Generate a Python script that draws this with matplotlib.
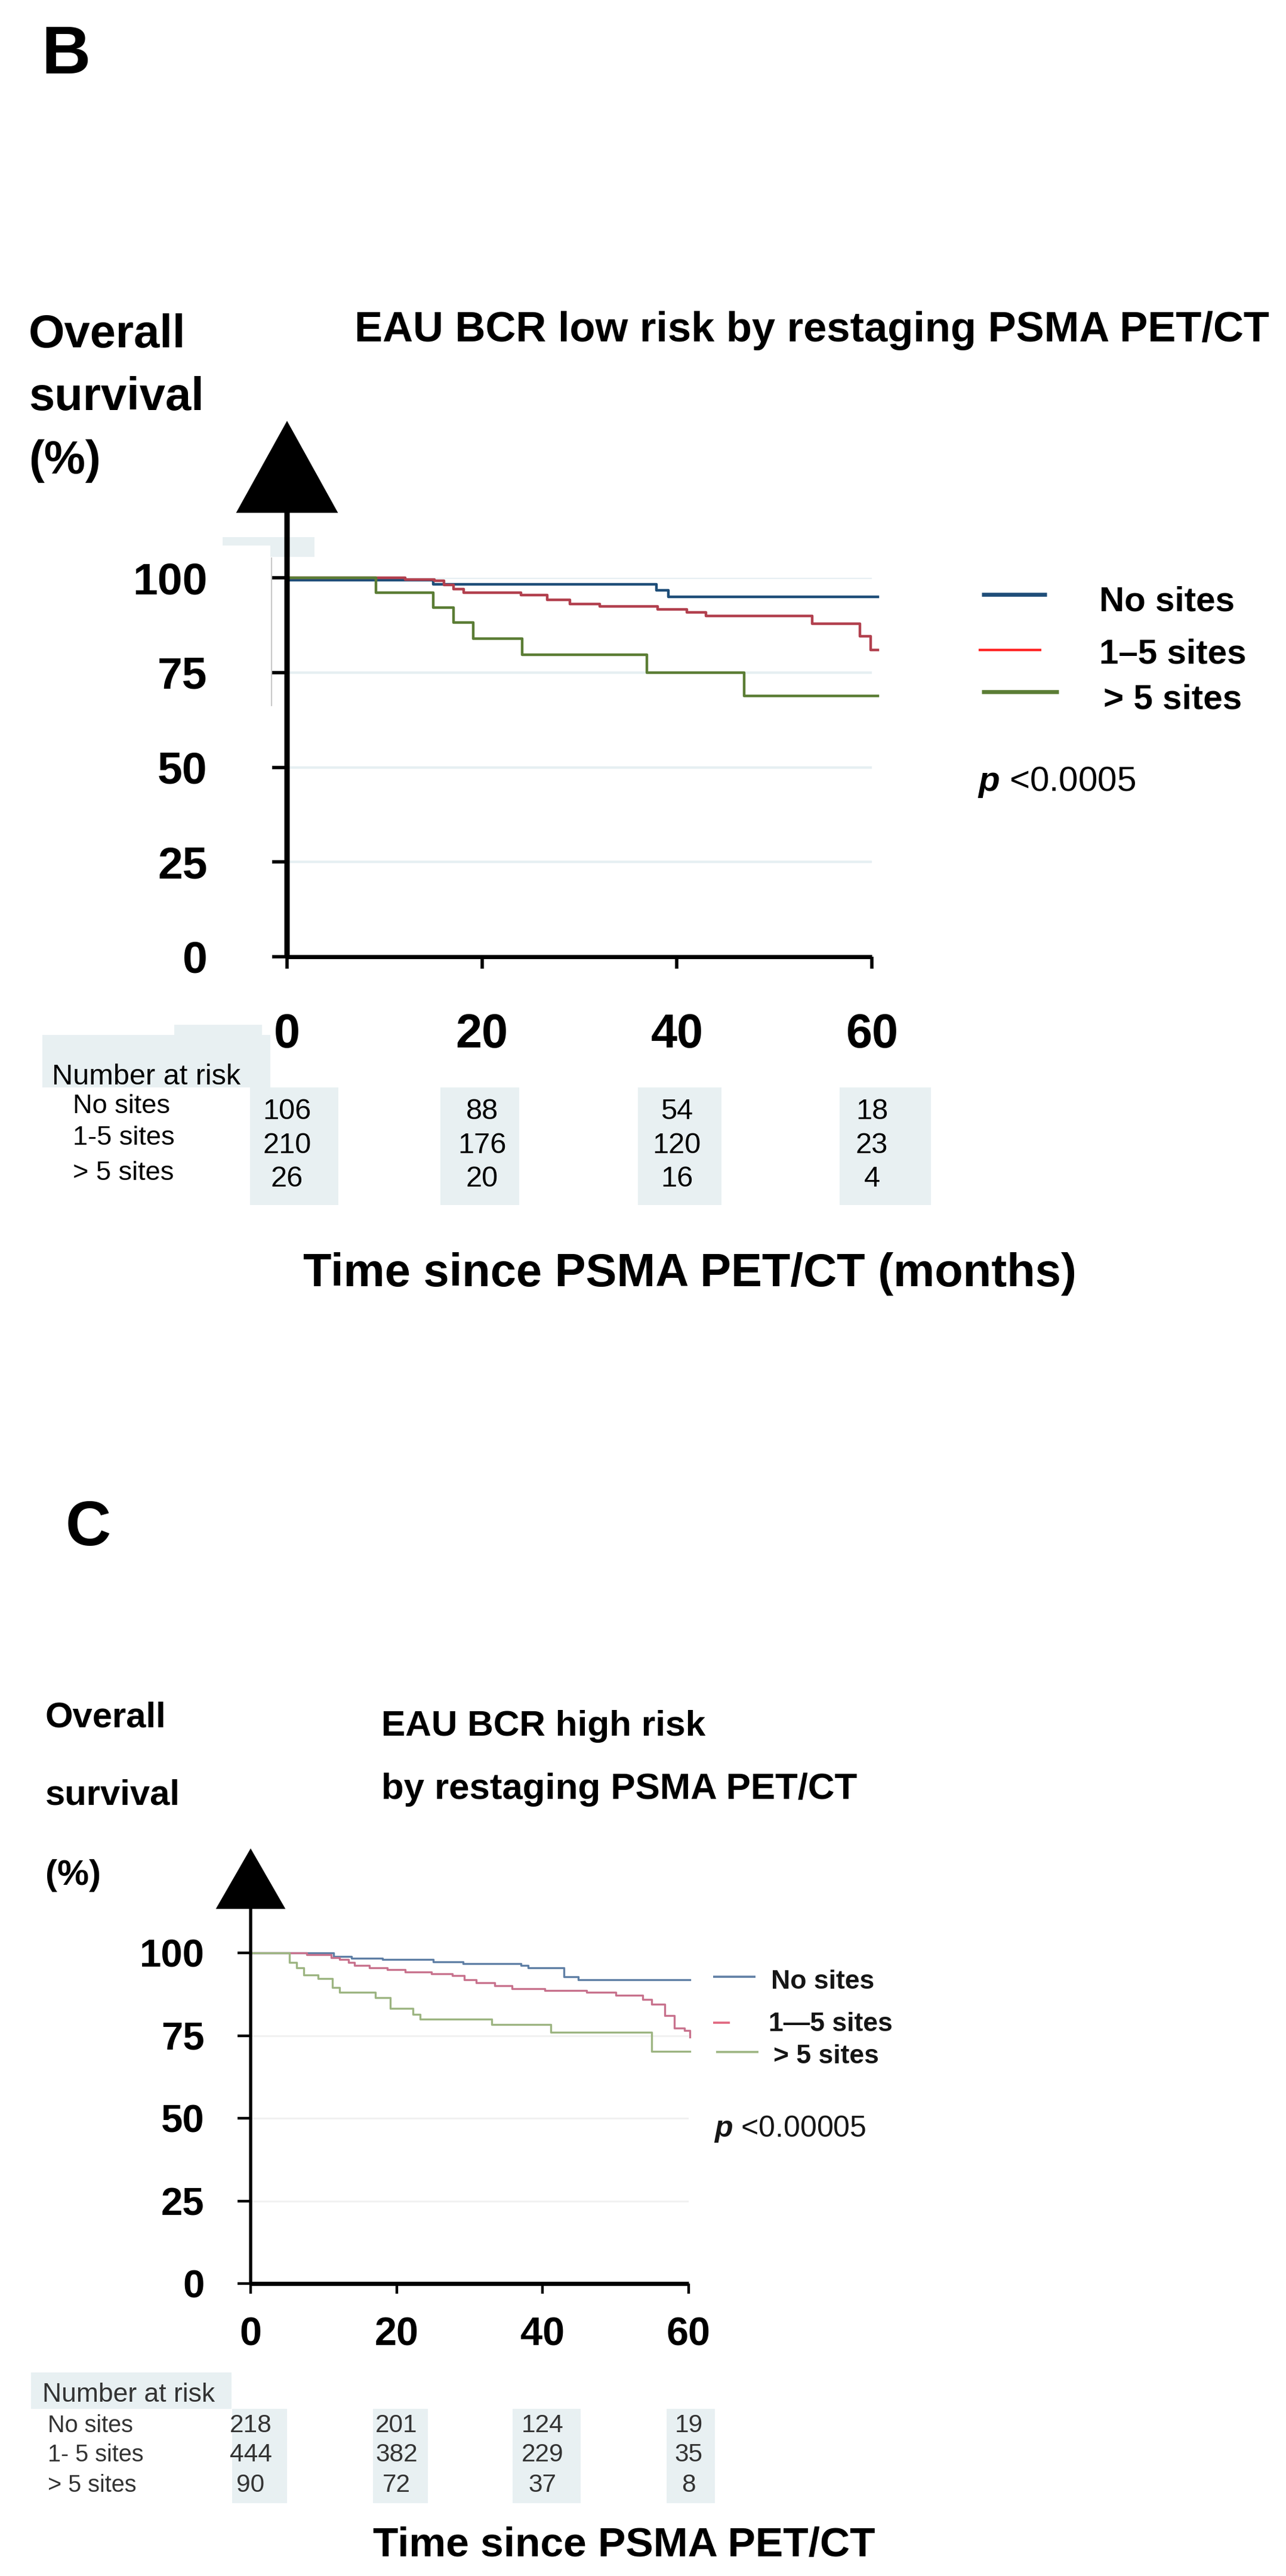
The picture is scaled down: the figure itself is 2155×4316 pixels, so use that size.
import numpy as np
import matplotlib
matplotlib.use("Agg")
import matplotlib.pyplot as plt
import matplotlib.transforms as mtransforms
from matplotlib.patches import Rectangle
from matplotlib.lines import Line2D

plt.rcParams['font.family'] = ['Liberation Sans', 'DejaVu Sans']
plt.rcParams['mathtext.fontset'] = 'custom'
plt.rcParams['mathtext.it'] = 'Liberation Sans:italic:bold'
plt.rcParams['mathtext.rm'] = 'Liberation Sans'

# ---- data ----
groups = ["No sites", "1-5 sites", "> 5 sites"]
time_ticks = [0, 20, 40, 60]
surv_ticks = [0, 25, 50, 75, 100]

# panel B: EAU BCR low risk
b_t_none = [0, 15.0, 37.9, 39.1, 60.6]
b_s_none = [99.3, 98.3, 96.7, 95.0, 95.0]
b_t_mid = [0, 12.1, 15.1, 16.1, 17.1, 18.1, 24.0, 26.7, 29.0, 32.1, 38.0, 41.0, 43.0, 53.9, 58.8, 59.9, 60.6]
b_s_mid = [100, 99.6, 99.2, 98.1, 97.0, 96.0, 95.4, 94.2, 93.0, 92.4, 91.6, 90.9, 90.0, 87.8, 84.5, 80.9, 80.9]
b_t_high = [0, 9.1, 15.0, 17.1, 19.1, 24.1, 36.9, 46.9, 60.6]
b_s_high = [100, 96.1, 92.1, 88.2, 83.9, 79.7, 75.0, 68.8, 68.8]
b_risk = [[106, 88, 54, 18], [210, 176, 120, 23], [26, 20, 16, 4]]

# panel C: EAU BCR high risk
c_t_none = [0, 11.4, 13.8, 18.1, 25.0, 29.1, 37.0, 38.0, 42.9, 44.9, 60.2]
c_s_none = [100, 98.9, 98.3, 98.0, 97.3, 96.7, 96.2, 95.5, 92.8, 91.9, 91.9]
c_t_mid = [0, 7.7, 11.0, 12.2, 13.4, 14.2, 16.3, 18.7, 21.2, 24.8, 27.6, 29.3, 30.9, 33.4, 35.8,
           40.3, 46.0, 50.0, 53.7, 54.9, 56.7, 58.0, 59.4, 60.2]
c_s_mid = [100, 99.5, 98.6, 98.0, 97.1, 96.2, 95.5, 94.9, 94.3, 93.7, 93.1, 91.9, 91.0, 90.1, 89.2,
           88.6, 88.0, 87.1, 85.9, 84.4, 81.1, 77.2, 76.6, 74.5]
c_t_high = [0, 5.3, 6.3, 7.3, 9.2, 11.2, 12.2, 17.1, 19.1, 22.2, 23.2, 33.0, 41.1, 54.9, 60.2]
c_s_high = [100, 97.1, 95.5, 93.4, 92.2, 89.5, 88.0, 86.5, 83.2, 81.4, 79.9, 78.4, 76.0, 70.3, 70.3]
c_risk = [[218, 201, 124, 19], [444, 382, 229, 35], [90, 72, 37, 8]]

W, H = 2155, 4316
def fx(x):
    return x / W
def fy(y):
    return 1 - y / H

fig = plt.figure(figsize=(W / 100, H / 100), dpi=100)

def box(x0, y0, x1, y1, color='#e8f0f2'):
    fig.add_artist(Rectangle((fx(x0), fy(y1)), (x1 - x0) / W, (y1 - y0) / H,
                             transform=fig.transFigure, color=color, lw=0, zorder=0))

def setup_axes(ax, xlab, ylab, xpad, ypad, tlen, twid, spine_w, grid_c, grid_w, grid_levels):
    ax.set_xlim(0, 60)
    ax.set_ylim(0, 100)
    ax.set_xticks(time_ticks)
    ax.set_yticks(surv_ticks)
    for s in ['top', 'right', 'left']:
        ax.spines[s].set_visible(False)
    ax.spines['bottom'].set_linewidth(spine_w)
    ax.spines['bottom'].set_capstyle('butt')
    ax.tick_params(axis='x', direction='out', length=tlen[0], width=twid, pad=xpad, labelsize=xlab)
    ax.tick_params(axis='y', direction='out', length=tlen[1], width=twid, pad=ypad, labelsize=ylab)
    for lb in ax.get_xticklabels() + ax.get_yticklabels():
        lb.set_fontweight('bold')
    for g in grid_levels:
        ax.axhline(g, color=grid_c, lw=grid_w, zorder=0)
    ax.patch.set_alpha(0)

# ================= panel B =================
axb = fig.add_axes([fx(481), fy(1603), 980 / W, 635 / H])
setup_axes(axb, 57, 54, 53, 78, (14.4, 18), 4.0, 5.0, '#e6eff2', 3.0, [25, 50, 75, 100])

b_cols = ['#1f4e79', '#b2404e', '#5b7d35']
for t, s, c in zip([b_t_none, b_t_mid, b_t_high], [b_s_none, b_s_mid, b_s_high], b_cols):
    axb.plot(t, s, drawstyle='steps-post', color=c, lw=3.2, clip_on=False, zorder=3)

axb.annotate('', xy=(0, 141.4), xytext=(0, 0), annotation_clip=False,
             arrowprops=dict(facecolor='black', edgecolor='black', lw=0,
                             width=6.5, headwidth=123, headlength=111, shrink=0))

# leftover artefacts of the composite figure
box(373, 900, 453, 914)
box(453, 900, 527, 933)
fig.add_artist(Line2D([fx(455), fx(455)], [fy(935), fy(1182)], transform=fig.transFigure,
                      color='#c8c8c8', lw=1.5))

fig.text(fx(69), fy(123), 'B', fontsize=82, fontweight='bold')
for txt, yb in zip(['Overall', 'survival', '(%)'], [582, 687, 793]):
    fig.text(fx(48), fy(yb), txt, fontsize=56, fontweight='bold')
fig.text(fx(594), fy(572), 'EAU BCR low risk by restaging PSMA PET/CT', fontsize=50.8, fontweight='bold')

# legend B
leg_b = [(1645, 1754, 996, b_cols[0], 4.8, 'No sites', 1842, 1023),
         (1640, 1745, 1089, '#ff2626', 3.0, '1\u20135 sites', 1842, 1112),
         (1645, 1774, 1159, b_cols[2], 4.8, '> 5 sites', 1849, 1188)]
for x0, x1, yl, c, lw, lab, xt, yt in leg_b:
    fig.add_artist(Line2D([fx(x0), fx(x1)], [fy(yl), fy(yl)], transform=fig.transFigure,
                          color=c, lw=lw, solid_capstyle='butt'))
    fig.text(fx(xt), fy(yt), lab, fontsize=42, fontweight='bold')
fig.text(fx(1638), fy(1325), r'$p$ <0.0005', fontsize=42)

# number at risk B
box(292, 1717, 439, 1734)
box(71, 1734, 453, 1822)
for x0, x1 in [(419, 567), (738, 870), (1069, 1209), (1407, 1560)]:
    box(x0, 1822, x1, 2019)
tb = mtransforms.blended_transform_factory(axb.transData, fig.transFigure)
fig.text(fx(87), fy(1817), 'Number at risk', fontsize=35)
for g, yb, yn, row in zip(groups, [1865, 1918, 1977], [1875, 1932, 1988], b_risk):
    fig.text(fx(122), fy(yb), g, fontsize=32.5)
    for t, n in zip(time_ticks, row):
        fig.text(t, fy(yn), str(n), fontsize=35, ha='center', transform=tb)
fig.text(fx(508), fy(2155), 'Time since PSMA PET/CT (months)', fontsize=56, fontweight='bold')

# ================= panel C =================
axc = fig.add_axes([fx(420), fy(3826), 734 / W, 554 / H])
setup_axes(axc, 48, 47, 28, 40, (12.2, 15.8), 3.2, 5.0, '#f1f1f1', 2.2, [25, 50, 75])

c_cols = ['#5f7fa5', '#c8728d', '#9db582']
for t, s, c in zip([c_t_none, c_t_mid, c_t_high], [c_s_none, c_s_mid, c_s_high], c_cols):
    axc.plot(t, s, drawstyle='steps-post', color=c, lw=2.4, clip_on=False, zorder=3)

axc.annotate('', xy=(0, 131.6), xytext=(0, 0), annotation_clip=False,
             arrowprops=dict(facecolor='black', edgecolor='black', lw=0,
                             width=3.8, headwidth=84, headlength=73, shrink=0))

fig.text(fx(110), fy(2589), 'C', fontsize=76, fontweight='bold')
for txt, yb in zip(['Overall', 'survival', '(%)'], [2894, 3023, 3158]):
    fig.text(fx(76), fy(yb), txt, fontsize=43, fontweight='bold')
fig.text(fx(639), fy(2908), 'EAU BCR high risk', fontsize=43.5, fontweight='bold')
fig.text(fx(639), fy(3014), 'by restaging PSMA PET/CT', fontsize=44.5, fontweight='bold')

leg_c = [(1195, 1266, 3312, c_cols[0], 'No sites', 1292, 3332),
         (1195, 1223, 3389, '#e0677f', '1\u20145 sites', 1288, 3403),
         (1200, 1271, 3438, c_cols[2], '> 5 sites', 1296, 3457)]
for x0, x1, yl, c, lab, xt, yt in leg_c:
    fig.add_artist(Line2D([fx(x0), fx(x1)], [fy(yl), fy(yl)], transform=fig.transFigure,
                          color=c, lw=2.6, solid_capstyle='butt'))
    fig.text(fx(xt), fy(yt), lab, fontsize=32, fontweight='bold', color='#151515')
fig.text(fx(1196), fy(3580), r'$p$ <0.00005', fontsize=36, color='#151515')

# number at risk C
box(52, 3975, 388, 4036)
for x0, x1 in [(389, 481), (625, 717), (859, 973), (1117, 1198)]:
    box(x0, 4036, x1, 4194)
tc = mtransforms.blended_transform_factory(axc.transData, fig.transFigure)
fig.text(fx(71), fy(4024), 'Number at risk', fontsize=32, color='#333333')
c_labels = ["No sites", "1- 5 sites", "> 5 sites"]
for g, yb, row in zip(c_labels, [4075, 4124, 4175], c_risk):
    fig.text(fx(80), fy(yb), g, fontsize=28.5, color='#333333')
    for t, n in zip(time_ticks, row):
        fig.text(t, fy(yb), str(n), fontsize=30.5, ha='center', color='#333333', transform=tc)
fig.text(fx(625), fy(4283), 'Time since PSMA PET/CT', fontsize=50, fontweight='bold')

fig.savefig('out.png', dpi=100)
